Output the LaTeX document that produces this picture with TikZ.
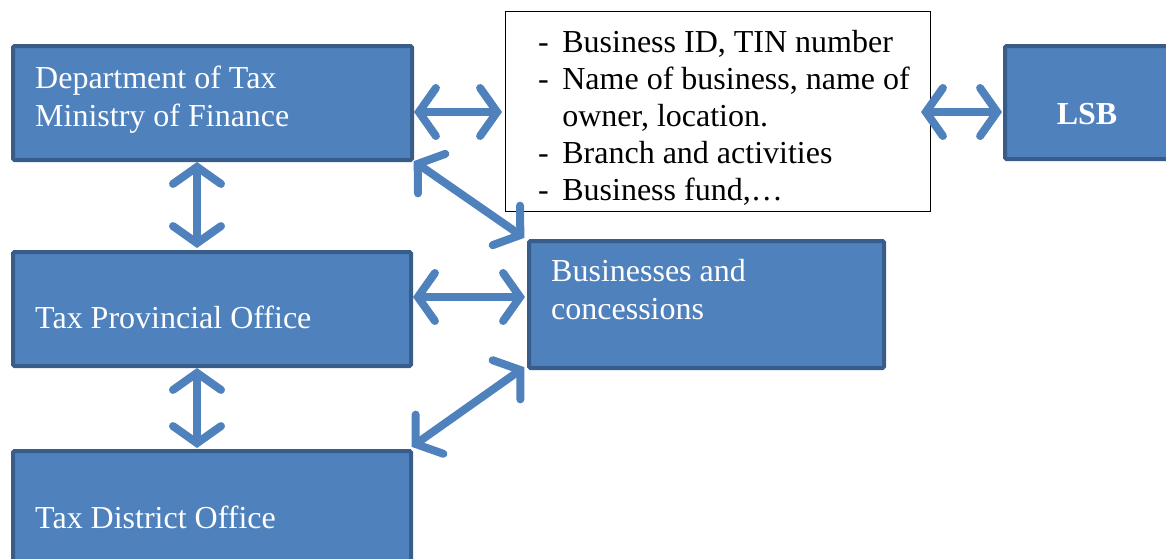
\documentclass[tikz,border=0pt]{standalone}
\usepackage{fontspec}
\setmainfont{Liberation Serif}
\usetikzlibrary{arrows.meta}
\definecolor{boxfill}{HTML}{4F81BD}
\definecolor{boxline}{HTML}{385D8A}
\definecolor{arr}{HTML}{4F81BD}
\tikzset{
  box/.style={draw=boxline, fill=boxfill, line width=4pt, rounded corners=1.5pt, anchor=north west, inner sep=0pt},
  lbl/.style={text=white, inner sep=0pt, font=\fontsize{32}{38}\selectfont, align=left},
  dbl/.style={arr, line width=8pt, {Straight Barb[length=17pt,width=48pt,line cap=round]}-{Straight Barb[length=17pt,width=48pt,line cap=round]}, shorten <=2pt, shorten >=2pt}
}
\begin{document}
\begin{tikzpicture}[x=1pt,y=-1pt]
\useasboundingbox (0,0) rectangle (1166,558);
% boxes
\node[box, minimum width=399pt, minimum height=114pt] (dot) at (11,44) {};
\node[box, minimum width=398pt, minimum height=114pt] (tpo) at (11,250) {};
\node[box, minimum width=398pt, minimum height=130pt] (tdo) at (11,449) {};
\node[box, minimum width=355pt, minimum height=127pt] (bus) at (527,239) {};
\node[box, minimum width=180pt, minimum height=113pt] (lsb) at (1003,44) {};
\node[draw=black, line width=1pt, fill=white, anchor=north west, inner sep=0pt, minimum width=425pt, minimum height=200pt] (info) at (505,11) {};
% labels
\node[lbl, anchor=base west] (tdot) at (35,126) {Department of Tax\\Ministry of Finance};
\node[lbl, anchor=base west] (ttpo) at (35,328) {Tax Provincial Office};
\node[lbl, anchor=base west] (ttdo) at (35,528) {Tax District Office};
\node[lbl, anchor=base west] (tbus) at (551,319) {Businesses and\\concessions};
\node[lbl, anchor=base, font=\fontsize{32}{38}\selectfont\bfseries] (tlsb) at (1087,124) {LSB};
\node[inner sep=0pt, anchor=north west, font=\fontsize{32}{37}\selectfont] (tinfo) at (538,26) {%
\begin{tabular}{@{}l@{\hspace{13.5pt}}l@{}}
-&Business ID, TIN number\\
-&Name of business, name of\\
 &owner, location.\\
-&Branch and activities\\
-&Business fund,\ldots
\end{tabular}};
% connectors
\coordinate (a1) at (412,112); \coordinate (a2) at (504,112);
\coordinate (b1) at (919,112); \coordinate (b2) at (1004,112);
\coordinate (c1) at (197,160); \coordinate (c2) at (197,250);
\coordinate (d1) at (412,160); \coordinate (d2) at (526,239);
\coordinate (e1) at (411,297); \coordinate (e2) at (527,297);
\coordinate (f1) at (197,366); \coordinate (f2) at (197,450);
\coordinate (g1) at (410,448); \coordinate (g2) at (526,366);
\draw[dbl] (a1) -- (a2);
\draw[dbl] (b1) -- (b2);
\draw[dbl] (c1) -- (c2);
\draw[dbl] (d1) -- (d2);
\draw[dbl] (e1) -- (e2);
\draw[dbl] (f1) -- (f2);
\draw[dbl] (g1) -- (g2);
\end{tikzpicture}
\end{document}
